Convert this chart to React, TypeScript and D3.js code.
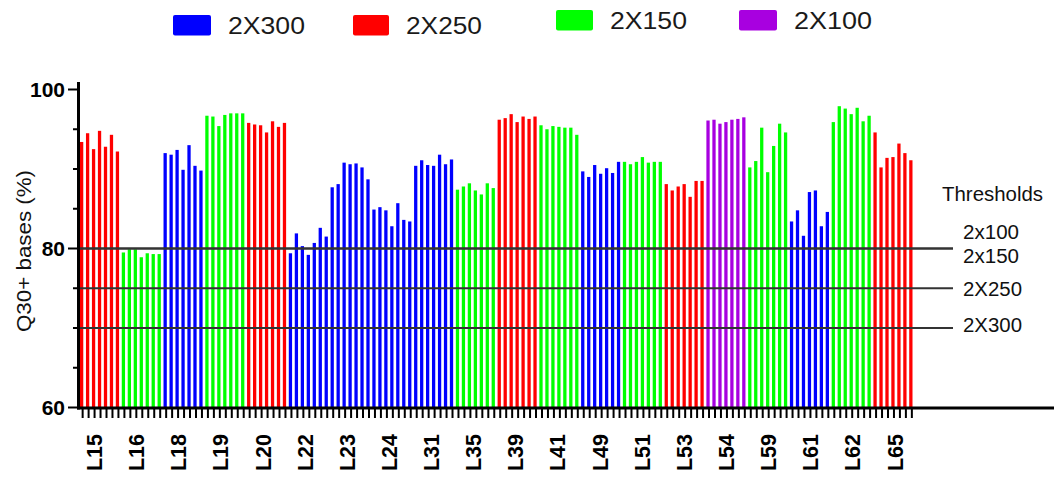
import React, { useEffect } from 'react'
import * as d3 from 'd3'

// sequencing lanes, 7 samples each
const lanes = ['L15', 'L16', 'L18', 'L19', 'L20', 'L22', 'L23', 'L24', 'L31', 'L35',
  'L39', 'L41', 'L49', 'L51', 'L53', 'L54', 'L59', 'L61', 'L62', 'L65']

const laneKit = ['2X250', '2X150', '2X300', '2X150', '2X250', '2X300', '2X300', '2X300', '2X300', '2X150',
  '2X250', '2X150', '2X300', '2X150', '2X250', '2X100', '2X150', '2X300', '2X150', '2X250']

const q30 = [
  [93.4, 94.5, 92.5, 94.8, 92.8, 94.3, 92.2],
  [79.5, 79.9, 79.9, 78.9, 79.4, 79.3, 79.3],
  [92.0, 91.8, 92.4, 89.9, 93.0, 90.4, 89.8],
  [96.7, 96.6, 95.4, 96.8, 97.0, 97.0, 97.0],
  [95.8, 95.6, 95.5, 94.6, 96.0, 95.3, 95.8],
  [79.4, 81.9, 80.3, 79.2, 80.7, 82.6, 81.5],
  [87.7, 88.1, 90.8, 90.6, 90.7, 90.2, 88.7],
  [84.9, 85.2, 84.8, 82.8, 85.7, 83.6, 83.4],
  [90.4, 91.1, 90.5, 90.4, 91.8, 90.6, 91.2],
  [87.4, 87.8, 88.2, 87.3, 86.8, 88.2, 87.6],
  [96.2, 96.4, 96.9, 95.9, 96.6, 96.3, 96.6],
  [95.5, 95.0, 95.4, 95.3, 95.2, 95.2, 94.3],
  [89.7, 89.0, 90.5, 89.4, 90.1, 89.5, 90.9],
  [90.9, 90.6, 90.9, 91.5, 90.8, 90.9, 90.9],
  [88.1, 87.3, 87.8, 88.1, 86.5, 88.5, 88.5],
  [96.1, 96.2, 95.7, 95.9, 96.2, 96.3, 96.5],
  [90.2, 91.0, 95.2, 89.6, 92.9, 95.7, 94.6],
  [83.4, 84.8, 81.6, 87.1, 87.3, 82.8, 84.6],
  [95.9, 97.9, 97.6, 96.9, 97.7, 96.0, 96.7],
  [94.6, 90.2, 91.4, 91.5, 93.2, 92.0, 91.1]
]

const kits = ['2X300', '2X250', '2X150', '2X100']
const kitColors = ['#0000ff', '#ff0000', '#00ff00', '#a800e0']

const thresholdLabels = ['2x100', '2x150', '2X250', '2X300']
const thresholdValues = [80, 80, 75, 70]

const yTicks = [60, 65, 70, 75, 80, 85, 90, 95, 100]
const yLabels = [60, 80, 100]

const W = 1054
const H = 478
const font = '"Liberation Sans", Arial, sans-serif'

export default function App() {
  useEffect(() => {
    document.body.style.margin = '0'
  }, [])

  const bars = lanes.flatMap((lane, li) =>
    q30[li].map((v, j) => ({ id: li * 7 + j, lane, kit: laneKit[li], value: v }))
  )

  const x = d3
    .scaleBand<number>()
    .domain(bars.map(d => d.id))
    .range([80, 912.5])
    .paddingInner(0.45)
    .paddingOuter(0)
  const laneX = d3.scalePoint<string>().domain(lanes).range([94, 894.5])
  const y = d3.scaleLinear().domain([60, 100]).range([407.5, 89.5])
  const color = d3.scaleOrdinal<string, string>().domain(kits).range(kitColors)

  // legend slots (two rows slightly offset like the original)
  const legendX = [173, 353, 556, 739]
  const legendY = [15, 15, 10, 10]
  const legendW = [38, 36, 37, 38]
  const legendText = [77, 76, 77, 78]

  // threshold label offsets from their line
  const labelDy = [-10, 14, 7.5, 4]

  return (
    <svg width={W} height={H} style={{ position: 'absolute', left: 0, top: 0, background: '#fff' }} fontFamily={font}>
      {/* legend */}
      {kits.map((k, i) => (
        <g key={k}>
          <rect x={legendX[i]} y={legendY[i]} width={legendW[i]} height={20.5} rx={2} fill={color(k)} />
          <text
            x={legendX[i] + legendW[i] + 17}
            y={legendY[i] + 18.5}
            fontSize={23}
            textLength={legendText[i]}
            lengthAdjust="spacingAndGlyphs"
            fill="#1a1a1a"
          >
            {k}
          </text>
        </g>
      ))}

      {/* bars */}
      {bars.map(d => (
        <rect
          key={d.id}
          x={x(d.id)}
          y={y(d.value)}
          width={x.bandwidth()}
          height={408 - y(d.value)}
          fill={color(d.kit)}
        />
      ))}

      {/* thresholds */}
      {thresholdValues.map((v, i) => (
        <line key={'t' + i} x1={80} x2={953} y1={y(v)} y2={y(v)} stroke="#333" strokeWidth={2} />
      ))}
      <text x={942} y={201} fontSize={20} textLength={101} lengthAdjust="spacingAndGlyphs" fill="#111">
        Thresholds
      </text>
      {thresholdLabels.map((t, i) => (
        <text
          key={t}
          x={963}
          y={y(thresholdValues[i]) + labelDy[i]}
          fontSize={20.5}
          textLength={i < 2 ? 56 : 59}
          lengthAdjust="spacingAndGlyphs"
          fill="#111"
        >
          {t}
        </text>
      ))}

      {/* y axis */}
      <line x1={78.5} x2={78.5} y1={82} y2={409.5} stroke="#000" strokeWidth={3} />
      {yTicks.map(t => (
        <line
          key={'yt' + t}
          x1={yLabels.includes(t) ? 68 : 73}
          x2={78}
          y1={y(t)}
          y2={y(t)}
          stroke="#000"
          strokeWidth={2}
        />
      ))}
      {yLabels.map(t => (
        <text key={'yl' + t} x={65} y={y(t)} dy="0.36em" textAnchor="end" fontSize={21} fontWeight="bold" fill="#000">
          {t}
        </text>
      ))}
      <text
        transform={`translate(31, 251) rotate(-90)`}
        textAnchor="middle"
        fontSize={19.5}
        textLength={162}
        lengthAdjust="spacingAndGlyphs"
        fill="#111"
      >
        Q30+ bases (%)
      </text>

      {/* x axis */}
      <line x1={77} x2={W} y1={408} y2={408} stroke="#000" strokeWidth={3} />
      {bars.map(d => {
        const cx = (x(d.id) as number) + x.bandwidth() / 2 + 1
        return <line key={'xt' + d.id} x1={cx} x2={cx} y1={409} y2={418} stroke="#000" strokeWidth={2} />
      })}
      {lanes.map(l => (
        <text
          key={'xl' + l}
          transform={`translate(${(laneX(l) as number) + 8}, 434) rotate(-90)`}
          textAnchor="end"
          fontSize={21.5}
          fontWeight="bold"
          fill="#000"
        >
          {l}
        </text>
      ))}
    </svg>
  )
}
